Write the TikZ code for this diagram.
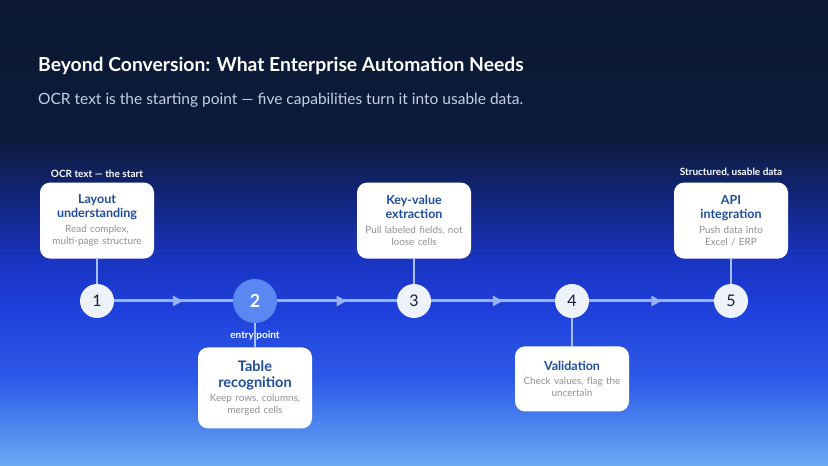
\documentclass[tikz,border=0pt]{standalone}
\usepackage{fontspec}
\setmainfont{Lato}
\usetikzlibrary{positioning, calc, arrows.meta, decorations.markings}

\definecolor{bgA}{HTML}{0A1830}
\definecolor{bgB}{HTML}{0C1B3C}
\definecolor{bgC}{HTML}{12267E}
\definecolor{bgD}{HTML}{1A34C2}
\definecolor{bgE}{HTML}{1F40DC}
\definecolor{bgF}{HTML}{2D5BE8}
\definecolor{bgG}{HTML}{5089EE}
\definecolor{bgH}{HTML}{6CA8F2}
\definecolor{navy}{HTML}{13213F}
\definecolor{subgray}{HTML}{C5D0E6}
\definecolor{titleblue}{HTML}{1E4D9C}
\definecolor{descgray}{HTML}{8C9098}
\definecolor{stagefill}{HTML}{EEF3FB}
\definecolor{entryblue}{HTML}{5A88F2}
\definecolor{trackblue}{HTML}{98B3F2}
\definecolor{linkblue}{HTML}{A8BFF2}

\pgfdeclareverticalshading{backdrop}{100bp}{
    color(0bp)=(bgH); color(25bp)=(bgH); color(28.9bp)=(bgG);
    color(34.2bp)=(bgF); color(41.7bp)=(bgE); color(47.1bp)=(bgD);
    color(53.5bp)=(bgC); color(60bp)=(bgB); color(75bp)=(bgA);
    color(100bp)=(bgA)}

\newcommand\cardhead{\bfseries\color{titleblue}\fontsize{12.5}{14}\selectfont}
\newcommand\bighead{\bfseries\color{titleblue}\fontsize{14.5}{16}\selectfont}
\newcommand\carddesc{\par\vspace{2.5pt}\mdseries\color{descgray}\fontsize{9.9}{12}\selectfont}

\tikzset{
    stage/.style = {
        circle, fill=stagefill, text=navy,
        minimum size=34pt, inner sep=0pt,
        font=\fontsize{16}{16}\selectfont
    },
    entry/.style = {
        stage, fill=entryblue, text=white,
        minimum size=44pt,
        font=\bfseries\fontsize{18}{18}\selectfont
    },
    card/.style = {
        rectangle, rounded corners=10pt, fill=white,
        text width=106pt, inner sep=4pt,
        minimum height=76pt,
        align=center
    },
    tag/.style = {
        text=white, inner sep=2pt,
        font=\bfseries\fontsize{10}{12}\selectfont
    },
    link/.style = {
        draw=linkblue, line width=1.6pt
    },
    flow/.style = {
        draw=trackblue, line width=3pt,
        postaction={decorate},
        decoration={markings,
            mark=at position 0.58 with {\arrow[trackblue]{Triangle[length=10pt,width=10pt]}}}
    }
}

\begin{document}
\begin{tikzpicture}[x=1pt, y=1pt]

\shade[shading=backdrop] (0,0) rectangle (828,466);
\useasboundingbox (0,0) rectangle (828,466);

\node (title) [anchor=base west, inner sep=0pt, text=white, font=\bfseries\fontsize{19.3}{22}\selectfont] at (38,394) {Beyond Conversion: What Enterprise Automation Needs};
\node (subtitle) [anchor=base west, inner sep=0pt, text=subgray, font=\fontsize{15.5}{18}\selectfont] at (38,361) {OCR text is the starting point --- five capabilities turn it into usable data.};

\node (c1) [stage] at (97,165) {1};
\node (c2) [entry] at (255,165) {2};
\node (c3) [stage] at (414,165) {3};
\node (c4) [stage] at (572,165) {4};
\node (c5) [stage] at (731,165) {5};

\node (card1) [card, above=25pt of c1] {\cardhead Layout\\understanding\carddesc Read complex,\\multi-page structure};
\node (card2) [card, below=24pt of c2, minimum height=81pt] {\bighead Table\\recognition\carddesc Keep rows, columns,\\merged cells};
\node (card3) [card, above=25pt of c3] {\cardhead Key-value\\extraction\carddesc Pull labeled fields, not\\loose cells};
\node (card4) [card, below=28pt of c4, minimum height=65pt] {\cardhead Validation\carddesc Check values, flag the\\uncertain};
\node (card5) [card, above=25pt of c5] {\cardhead API\\integration\carddesc Push data into\\Excel / ERP};

\draw [flow] (c1) -- (c2);
\draw [flow] (c2) -- (c3);
\draw [flow] (c3) -- (c4);
\draw [flow] (c4) -- (c5);

\draw [link] (card1) -- (c1);
\draw [link] (c2) -- (card2);
\draw [link] (card3) -- (c3);
\draw [link] (c4) -- (card4);
\draw [link] (card5) -- (c5);

\node (start) [tag, above=3pt of card1] {OCR text --- the start};
\node (finish) [tag, above=3pt of card5] {Structured, usable data};
\node (entrytag) [tag] at ($(c2.south)!0.5!(card2.north)$) {entry point};

\end{tikzpicture}
\end{document}
